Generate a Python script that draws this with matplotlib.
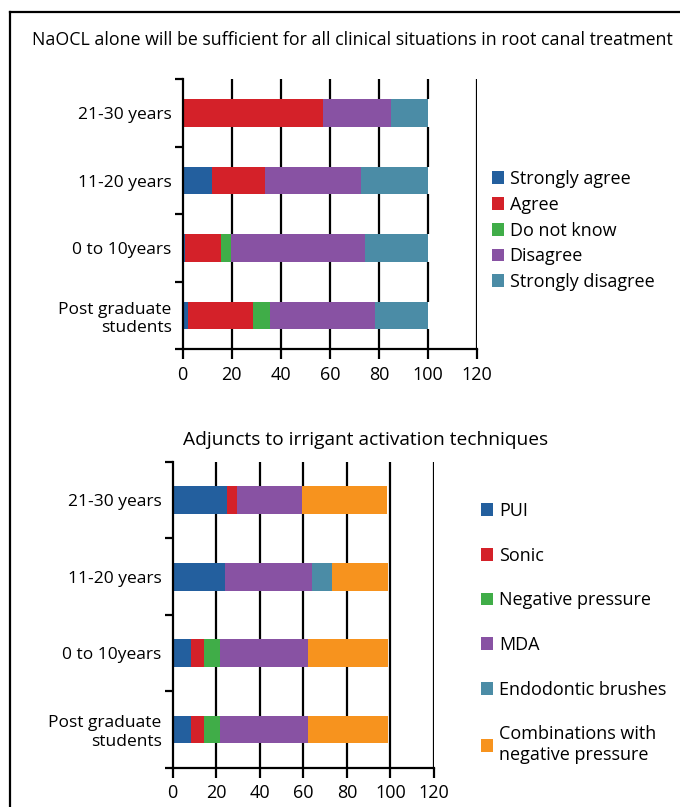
import numpy as np
import matplotlib.pyplot as plt
from matplotlib.lines import Line2D

plt.rcParams['font.family'] = ['Open Sans', 'DejaVu Sans']

groups = ["Post graduate\nstudents", "0 to 10years", "11-20 years", "21-30 years"]

# top chart: NaOCL alone sufficient
naocl_labels = ["Strongly agree", "Agree", "Do not know", "Disagree", "Strongly disagree"]
strongly_agree = [2, 1, 12, 0]
agree = [26.5, 14.5, 21.5, 57]
do_not_know = [7, 4, 0, 0]
disagree = [43, 55, 39, 28]
strongly_disagree = [21.5, 25.5, 27.5, 15]
naocl_colors = ["#235f9e", "#d42129", "#40ad48", "#8852a3", "#4b8ca6"]

# bottom chart: adjuncts to irrigant activation
adj_labels = ["PUI", "Sonic", "Negative pressure", "MDA", "Endodontic brushes",
              "Combinations with\nnegative pressure"]
pui = [8.5, 8.5, 24, 25]
sonic = [6, 6, 0, 4.5]
neg_pressure = [7, 7, 0, 0]
mda = [40.5, 40.5, 40, 30]
brushes = [0, 0, 9, 0]
combinations = [37, 37, 26, 39]
adj_colors = ["#235f9e", "#d42129", "#40ad48", "#8852a3", "#4b8ca6", "#f7931e"]

xticks = list(range(0, 121, 20))


def stacked(ax, series, labels, colors, height):
    y = np.arange(len(groups))
    left = np.zeros(len(groups))
    handles = []
    for vals, lab, col in zip(series, labels, colors):
        h = ax.barh(y, vals, left=left.copy(), height=height, color=col, label=lab, zorder=2)
        handles.append(h)
        left = left + np.array(vals)
    totals = left
    ax.set_xlim(0, 120)
    ax.set_ylim(-0.5, 3.5)

    # vertical grid lines, broken where a bar passes over them
    for xv in xticks[1:]:
        start = -0.5
        for yy, tot in zip(y, totals):
            if tot > xv - 0.5:
                ax.vlines(xv, start, yy - height / 2, colors='black', linewidth=1.6, zorder=5)
                start = yy + height / 2
        ax.vlines(xv, start, 3.5, colors='black', linewidth=1.6, zorder=5)

    ax.set_xticks(xticks)
    ax.set_yticks([-0.5, 0.5, 1.5, 2.5, 3.5])
    ax.set_yticklabels([])
    ax.set_yticks(y, groups, minor=True)
    ax.tick_params(axis='y', which='minor', length=0, pad=8, labelsize=12.5)
    ax.tick_params(axis='y', which='major', length=6, width=1.6)
    ax.tick_params(axis='x', length=7, width=1.6, labelsize=13, pad=5)
    for s in ['top', 'right']:
        ax.spines[s].set_visible(False)
    for s in ['left', 'bottom']:
        ax.spines[s].set_linewidth(1.6)
    for t in ax.get_yticklabels(minor=True):
        t.set_ha('right')
        t.set_multialignment('right')
    return handles


fig = plt.figure(figsize=(6.8, 8.07), dpi=100)

ax1 = fig.add_axes([0.2687, 0.5672, 0.4328, 0.3343])
h1 = stacked(ax1, [strongly_agree, agree, do_not_know, disagree, strongly_disagree],
             naocl_labels, naocl_colors, 0.41)
fig.text(0.518, 1 - 40 / 807, "NaOCL alone will be sufficient for all clinical situations in root canal treatment",
         ha='center', va='center', fontsize=12.8)
fig.legend(handles=h1, loc='center left', bbox_to_anchor=(0.723, 1 - 230.5 / 807),
           frameon=False, fontsize=13, handlelength=0.7, handleheight=0.7,
           handletextpad=0.3, labelspacing=0.43, borderpad=0, borderaxespad=0)

ax2 = fig.add_axes([0.254, 0.0487, 0.3843, 0.3788])
h2 = stacked(ax2, [pui, sonic, neg_pressure, mda, brushes, combinations],
             adj_labels, adj_colors, 0.366)
fig.text(0.538, 1 - 440 / 807, "Adjuncts to irrigant activation techniques",
         ha='center', va='center', fontsize=13.8)
fig.legend(handles=h2, loc='center left', bbox_to_anchor=(0.707, 1 - 633 / 807),
           frameon=False, fontsize=13, handlelength=0.7, handleheight=0.7,
           handletextpad=0.3, labelspacing=1.48, borderpad=0, borderaxespad=0)

# frame around the figure (left and top only)
fig.add_artist(Line2D([10 / 680, 10 / 680], [0, 1 - 12 / 807], color='black', lw=1.6))
fig.add_artist(Line2D([10 / 680, 1], [1 - 12 / 807, 1 - 12 / 807], color='black', lw=1.6))

fig.savefig("out.png", dpi=100)
